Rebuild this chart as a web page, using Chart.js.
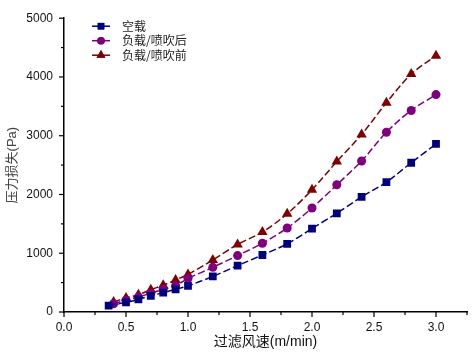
<!DOCTYPE html>
<html lang="zh">
<head>
  <meta charset="UTF-8" />
  <title>压力损失</title>
  <script src="https://cdn.jsdelivr.net/npm/chart.js"></script>
  <style>
    html, body { margin: 0; padding: 0; background: #fff; }
    #wrap { width: 475px; height: 352px; }
  </style>
</head>
<body>
  <div id="wrap"><canvas id="c"></canvas></div>
  <script>
    // 数据
    const speedEmpty = [0.36, 0.5, 0.6, 0.7, 0.8, 0.9, 1.0, 1.2, 1.4, 1.6, 1.8, 2.0, 2.2, 2.4, 2.6, 2.8, 3.0];
    const speedLoaded = [0.4, 0.5, 0.6, 0.7, 0.8, 0.9, 1.0, 1.2, 1.4, 1.6, 1.8, 2.0, 2.2, 2.4, 2.6, 2.8, 3.0];
    const lossEmpty = [110, 165, 215, 275, 330, 385, 445, 605, 790, 970, 1160, 1420, 1680, 1960, 2210, 2540, 2860];
    const lossAfter = [140, 200, 255, 320, 385, 450, 570, 760, 960, 1170, 1430, 1770, 2165, 2570, 3060, 3430, 3700];
    const lossBefore = [170, 240, 295, 380, 455, 545, 640, 885, 1150, 1360, 1670, 2080, 2560, 3020, 3560, 4050, 4360];
    const seriesNames = ["空载", "负载/喷吹后", "负载/喷吹前"];

    const FONT = "'Liberation Sans', Arial, 'Noto Sans CJK SC', sans-serif";
    const toPoints = (xs, ys) => xs.map((x, i) => ({ x: x, y: ys[i] }));

    const mkSet = (label, xs, ys, color, style, radius) => ({
      label: label,
      data: toPoints(xs, ys),
      borderColor: color,
      backgroundColor: color,
      borderWidth: 1.5,
      borderDash: [7, 3],
      tension: 0.3,
      pointStyle: style,
      pointRadius: radius,
      pointBorderWidth: 0,
      pointHoverRadius: radius
    });

    // 刻度线（主刻度长、次刻度短）与图例
    const extras = {
      id: "extras",
      afterDraw(chart) {
        const ctx = chart.ctx;
        const xs = chart.scales.x, ys = chart.scales.y;
        ctx.save();
        ctx.strokeStyle = "#000";
        ctx.lineWidth = 1.2;
        xs.ticks.forEach(t => {
          const p = xs.getPixelForValue(t.value);
          const len = Math.abs(t.value / 0.5 - Math.round(t.value / 0.5)) < 1e-6 ? 5 : 3;
          ctx.beginPath();
          ctx.moveTo(p, xs.top);
          ctx.lineTo(p, xs.top + len);
          ctx.stroke();
        });
        ys.ticks.forEach(t => {
          const p = ys.getPixelForValue(t.value);
          const len = t.value % 1000 === 0 ? 5 : 3;
          ctx.beginPath();
          ctx.moveTo(ys.right, p);
          ctx.lineTo(ys.right - len, p);
          ctx.stroke();
        });

        // 图例
        const lx = chart.chartArea.left + 28;
        let ly = chart.chartArea.top + 8;
        chart.data.datasets.forEach(ds => {
          ctx.strokeStyle = ds.borderColor;
          ctx.lineWidth = 1.5;
          ctx.setLineDash([]);
          ctx.beginPath();
          ctx.moveTo(lx, ly);
          ctx.lineTo(lx + 18, ly);
          ctx.stroke();
          ctx.fillStyle = ds.backgroundColor;
          Chart.helpers.drawPoint(ctx, { pointStyle: ds.pointStyle, radius: ds.pointRadius * 0.85, borderWidth: 0 }, lx + 9, ly);
          ctx.fill();
          ctx.fillStyle = "#222";
          ctx.font = "12px 'Noto Sans CJK SC', sans-serif";
          ctx.textBaseline = "middle";
          ctx.fillText(ds.label, lx + 30, ly);
          ly += 14.5;
        });
        ctx.restore();
      }
    };

    new Chart(document.getElementById("c"), {
      type: "line",
      data: {
        datasets: [
          mkSet(seriesNames[0], speedEmpty, lossEmpty, "#00007f", "rect", 5.5),
          mkSet(seriesNames[1], speedLoaded, lossAfter, "#7f007f", "circle", 4.5),
          mkSet(seriesNames[2], speedLoaded, lossBefore, "#7f0000", "triangle", 6)
        ]
      },
      options: {
        responsive: true,
        maintainAspectRatio: false,
        animation: false,
        layout: { padding: { top: 14, right: 5, left: 0, bottom: 0 } },
        plugins: { legend: { display: false }, tooltip: { enabled: false } },
        scales: {
          x: {
            type: "linear",
            min: 0,
            max: 3.25,
            afterFit: s => { s.height = 40; },
            ticks: {
              stepSize: 0.25,
              autoSkip: false,
              maxRotation: 0,
              padding: 8,
              color: "#111",
              font: { family: FONT, size: 12 },
              callback: v => (Math.abs(v / 0.5 - Math.round(v / 0.5)) < 1e-6 ? v.toFixed(1) : "")
            },
            grid: { display: false, drawTicks: false },
            border: { display: true, color: "#000", width: 1.5 },
            title: {
              display: true,
              text: "过滤风速(m/min)",
              color: "#111",
              font: { family: FONT, size: 14 },
              padding: { top: 0, bottom: 1 }
            }
          },
          y: {
            min: 0,
            max: 5000,
            afterFit: s => { s.width = 64; },
            ticks: {
              stepSize: 500,
              autoSkip: false,
              padding: 11,
              color: "#111",
              font: { family: FONT, size: 12 },
              callback: v => (v % 1000 === 0 ? String(v) : "")
            },
            grid: { display: false, drawTicks: false },
            border: { display: true, color: "#000", width: 1.5 },
            title: {
              display: true,
              text: "压力损失(Pa)",
              color: "#444",
              font: { family: FONT, size: 13 },
              padding: { top: 5, bottom: 0 }
            }
          }
        }
      },
      plugins: [extras]
    });
  </script>
</body>
</html>
